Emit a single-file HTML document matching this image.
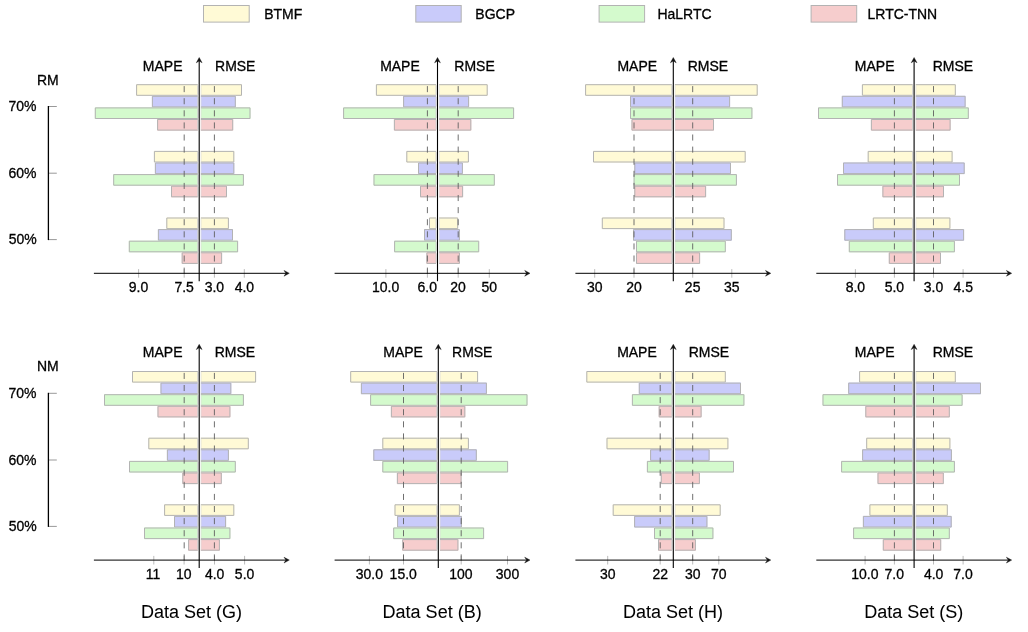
<!DOCTYPE html>
<html><head><meta charset="utf-8"><style>
html,body{margin:0;padding:0;background:#fff;}
body{width:1028px;height:632px;overflow:hidden;}
svg{display:block;will-change:transform;}
text{font-family:"Liberation Sans", Arial, Helvetica, sans-serif;fill:#000;stroke:#000;stroke-width:0.3px;}
.t{stroke-width:0.05px;}
</style></head><body>
<svg width="1028" height="632" viewBox="0 0 1028 632">
<rect x="203.5" y="5.5" width="45.7" height="16.6" fill="#fffad6" stroke="#b3b3b3" stroke-width="1"/>
<text transform="matrix(1 0 0 1.04 264.25 18.7)" font-size="14.0">BTMF</text>
<rect x="415.8" y="5.5" width="45.4" height="16.6" fill="#c9cbfa" stroke="#b3b3b3" stroke-width="1"/>
<text transform="matrix(1 0 0 1.04 475.35 18.7)" font-size="14.0">BGCP</text>
<rect x="599.1" y="5.5" width="45.5" height="16.6" fill="#d4facd" stroke="#b3b3b3" stroke-width="1"/>
<text transform="matrix(1 0 0 1.04 657.45 18.7)" font-size="14.0">HaLRTC</text>
<rect x="811.1" y="5.5" width="45.6" height="16.6" fill="#f6cdcd" stroke="#b3b3b3" stroke-width="1"/>
<text transform="matrix(1 0 0 1.04 867.55 18.7)" font-size="14.0">LRTC-TNN</text>
<text transform="matrix(1 0 0 1.04 36.95 84.8)" font-size="14.0">RM</text>
<text transform="matrix(1 0 0 1.04 8.48 111.1)" font-size="14.0">70%</text>
<text transform="matrix(1 0 0 1.04 8.49 178.3)" font-size="14.0">60%</text>
<text transform="matrix(1 0 0 1.04 8.64 244.3)" font-size="14.0">50%</text>
<line x1="48.5" y1="106.5" x2="56.8" y2="106.5" stroke="#999" stroke-width="1"/>
<line x1="48.5" y1="173.2" x2="56.8" y2="173.2" stroke="#999" stroke-width="1"/>
<line x1="48.5" y1="239.6" x2="56.8" y2="239.6" stroke="#999" stroke-width="1"/>
<line x1="48.4" y1="106" x2="48.4" y2="240.1" stroke="#000" stroke-width="1.3"/>
<text transform="matrix(1 0 0 1.04 36.95 371.3)" font-size="14.0">NM</text>
<text transform="matrix(1 0 0 1.04 8.48 397.9)" font-size="14.0">70%</text>
<text transform="matrix(1 0 0 1.04 8.49 465.1)" font-size="14.0">60%</text>
<text transform="matrix(1 0 0 1.04 8.64 531.1)" font-size="14.0">50%</text>
<line x1="48.5" y1="393.3" x2="56.8" y2="393.3" stroke="#999" stroke-width="1"/>
<line x1="48.5" y1="460" x2="56.8" y2="460" stroke="#999" stroke-width="1"/>
<line x1="48.5" y1="526.4" x2="56.8" y2="526.4" stroke="#999" stroke-width="1"/>
<line x1="48.4" y1="392.8" x2="48.4" y2="526.9" stroke="#000" stroke-width="1.3"/>
<line x1="138.6" y1="269.1" x2="138.6" y2="277.7" stroke="#bbb" stroke-width="1"/>
<line x1="184.2" y1="269.1" x2="184.2" y2="277.7" stroke="#bbb" stroke-width="1"/>
<line x1="214.4" y1="269.1" x2="214.4" y2="277.7" stroke="#bbb" stroke-width="1"/>
<line x1="244.3" y1="269.1" x2="244.3" y2="277.7" stroke="#bbb" stroke-width="1"/>
<rect x="136.1" y="84.2" width="61.7" height="11.6" fill="#fffad6"/>
<path d="M197.8 84.7H136.6V95.3H197.8" fill="none" stroke="#b3b3b3" stroke-width="1"/>
<line x1="197.8" y1="85.2" x2="197.8" y2="94.8" stroke="#cfcfcf" stroke-width="1"/>
<rect x="200.8" y="84.2" width="41.2" height="11.6" fill="#fffad6"/>
<path d="M200.8 84.7H241.5V95.3H200.8" fill="none" stroke="#b3b3b3" stroke-width="1"/>
<line x1="201.1" y1="85.2" x2="201.1" y2="94.8" stroke="#dedede" stroke-width="0.6"/>
<rect x="151.9" y="95.8" width="45.9" height="11.6" fill="#c9cbfa"/>
<path d="M197.8 96.3H152.4V106.9H197.8" fill="none" stroke="#b3b3b3" stroke-width="1"/>
<line x1="197.8" y1="96.8" x2="197.8" y2="106.4" stroke="#cfcfcf" stroke-width="1"/>
<rect x="200.8" y="95.8" width="35" height="11.6" fill="#c9cbfa"/>
<path d="M200.8 96.3H235.3V106.9H200.8" fill="none" stroke="#b3b3b3" stroke-width="1"/>
<line x1="201.1" y1="96.8" x2="201.1" y2="106.4" stroke="#dedede" stroke-width="0.6"/>
<rect x="94.8" y="107.4" width="103" height="11.6" fill="#d4facd"/>
<path d="M197.8 107.9H95.3V118.5H197.8" fill="none" stroke="#b3b3b3" stroke-width="1"/>
<line x1="197.8" y1="108.4" x2="197.8" y2="118" stroke="#cfcfcf" stroke-width="1"/>
<rect x="200.8" y="107.4" width="49.7" height="11.6" fill="#d4facd"/>
<path d="M200.8 107.9H250V118.5H200.8" fill="none" stroke="#b3b3b3" stroke-width="1"/>
<line x1="201.1" y1="108.4" x2="201.1" y2="118" stroke="#dedede" stroke-width="0.6"/>
<rect x="157.1" y="119" width="40.7" height="11.6" fill="#f6cdcd"/>
<path d="M197.8 119.5H157.6V130.1H197.8" fill="none" stroke="#b3b3b3" stroke-width="1"/>
<line x1="197.8" y1="120" x2="197.8" y2="129.6" stroke="#cfcfcf" stroke-width="1"/>
<rect x="200.8" y="119" width="32.4" height="11.6" fill="#f6cdcd"/>
<path d="M200.8 119.5H232.7V130.1H200.8" fill="none" stroke="#b3b3b3" stroke-width="1"/>
<line x1="201.1" y1="120" x2="201.1" y2="129.6" stroke="#dedede" stroke-width="0.6"/>
<rect x="153.9" y="150.9" width="43.9" height="11.6" fill="#fffad6"/>
<path d="M197.8 151.4H154.4V162H197.8" fill="none" stroke="#b3b3b3" stroke-width="1"/>
<line x1="197.8" y1="151.9" x2="197.8" y2="161.5" stroke="#cfcfcf" stroke-width="1"/>
<rect x="200.8" y="150.9" width="33.5" height="11.6" fill="#fffad6"/>
<path d="M200.8 151.4H233.8V162H200.8" fill="none" stroke="#b3b3b3" stroke-width="1"/>
<line x1="201.1" y1="151.9" x2="201.1" y2="161.5" stroke="#dedede" stroke-width="0.6"/>
<rect x="154.9" y="162.5" width="42.9" height="11.6" fill="#c9cbfa"/>
<path d="M197.8 163H155.4V173.6H197.8" fill="none" stroke="#b3b3b3" stroke-width="1"/>
<line x1="197.8" y1="163.5" x2="197.8" y2="173.1" stroke="#cfcfcf" stroke-width="1"/>
<rect x="200.8" y="162.5" width="33.5" height="11.6" fill="#c9cbfa"/>
<path d="M200.8 163H233.8V173.6H200.8" fill="none" stroke="#b3b3b3" stroke-width="1"/>
<line x1="201.1" y1="163.5" x2="201.1" y2="173.1" stroke="#dedede" stroke-width="0.6"/>
<rect x="113.2" y="174.1" width="84.6" height="11.6" fill="#d4facd"/>
<path d="M197.8 174.6H113.7V185.2H197.8" fill="none" stroke="#b3b3b3" stroke-width="1"/>
<line x1="197.8" y1="175.1" x2="197.8" y2="184.7" stroke="#cfcfcf" stroke-width="1"/>
<rect x="200.8" y="174.1" width="43.1" height="11.6" fill="#d4facd"/>
<path d="M200.8 174.6H243.4V185.2H200.8" fill="none" stroke="#b3b3b3" stroke-width="1"/>
<line x1="201.1" y1="175.1" x2="201.1" y2="184.7" stroke="#dedede" stroke-width="0.6"/>
<rect x="171" y="185.7" width="26.8" height="11.6" fill="#f6cdcd"/>
<path d="M197.8 186.2H171.5V196.8H197.8" fill="none" stroke="#b3b3b3" stroke-width="1"/>
<line x1="197.8" y1="186.7" x2="197.8" y2="196.3" stroke="#cfcfcf" stroke-width="1"/>
<rect x="200.8" y="185.7" width="26.2" height="11.6" fill="#f6cdcd"/>
<path d="M200.8 186.2H226.5V196.8H200.8" fill="none" stroke="#b3b3b3" stroke-width="1"/>
<line x1="201.1" y1="186.7" x2="201.1" y2="196.3" stroke="#dedede" stroke-width="0.6"/>
<rect x="166.3" y="217.5" width="31.5" height="11.6" fill="#fffad6"/>
<path d="M197.8 218H166.8V228.6H197.8" fill="none" stroke="#b3b3b3" stroke-width="1"/>
<line x1="197.8" y1="218.5" x2="197.8" y2="228.1" stroke="#cfcfcf" stroke-width="1"/>
<rect x="200.8" y="217.5" width="28.1" height="11.6" fill="#fffad6"/>
<path d="M200.8 218H228.4V228.6H200.8" fill="none" stroke="#b3b3b3" stroke-width="1"/>
<line x1="201.1" y1="218.5" x2="201.1" y2="228.1" stroke="#dedede" stroke-width="0.6"/>
<rect x="157.9" y="229.1" width="39.9" height="11.6" fill="#c9cbfa"/>
<path d="M197.8 229.6H158.4V240.2H197.8" fill="none" stroke="#b3b3b3" stroke-width="1"/>
<line x1="197.8" y1="230.1" x2="197.8" y2="239.7" stroke="#cfcfcf" stroke-width="1"/>
<rect x="200.8" y="229.1" width="32.2" height="11.6" fill="#c9cbfa"/>
<path d="M200.8 229.6H232.5V240.2H200.8" fill="none" stroke="#b3b3b3" stroke-width="1"/>
<line x1="201.1" y1="230.1" x2="201.1" y2="239.7" stroke="#dedede" stroke-width="0.6"/>
<rect x="128.8" y="240.7" width="69" height="11.6" fill="#d4facd"/>
<path d="M197.8 241.2H129.3V251.8H197.8" fill="none" stroke="#b3b3b3" stroke-width="1"/>
<line x1="197.8" y1="241.7" x2="197.8" y2="251.3" stroke="#cfcfcf" stroke-width="1"/>
<rect x="200.8" y="240.7" width="37.3" height="11.6" fill="#d4facd"/>
<path d="M200.8 241.2H237.6V251.8H200.8" fill="none" stroke="#b3b3b3" stroke-width="1"/>
<line x1="201.1" y1="241.7" x2="201.1" y2="251.3" stroke="#dedede" stroke-width="0.6"/>
<rect x="181.7" y="252.3" width="16.1" height="11.6" fill="#f6cdcd"/>
<path d="M197.8 252.8H182.2V263.4H197.8" fill="none" stroke="#b3b3b3" stroke-width="1"/>
<line x1="197.8" y1="253.3" x2="197.8" y2="262.9" stroke="#cfcfcf" stroke-width="1"/>
<rect x="200.8" y="252.3" width="21.3" height="11.6" fill="#f6cdcd"/>
<path d="M200.8 252.8H221.6V263.4H200.8" fill="none" stroke="#b3b3b3" stroke-width="1"/>
<line x1="201.1" y1="253.3" x2="201.1" y2="262.9" stroke="#dedede" stroke-width="0.6"/>
<line x1="184.2" y1="273.65" x2="184.2" y2="84" stroke="#606060" stroke-width="0.9" stroke-dasharray="6.05 6.05"/>
<line x1="214.4" y1="273.65" x2="214.4" y2="84" stroke="#606060" stroke-width="0.9" stroke-dasharray="6.05 6.05"/>
<line x1="93.9" y1="273.3" x2="286.3" y2="273.3" stroke="#000" stroke-width="1.0"/>
<path d="M289.3 273.3 L284 270.4 L285.9 273.3 L284 276.2 Z" fill="#111" stroke="#111" stroke-width="0.4" stroke-linejoin="round"/>
<line x1="199.2" y1="281.2" x2="199.2" y2="60.5" stroke="#000" stroke-width="1.1"/>
<path d="M199.2 57.5 L202.1 62.8 L199.2 60.9 L196.3 62.8 Z" fill="#111" stroke="#111" stroke-width="0.4" stroke-linejoin="round"/>
<text transform="matrix(1 0 0 1.04 142.85 70.6)" font-size="14.0">MAPE</text>
<text transform="matrix(1 0 0 1.04 215.05 70.6)" font-size="14.0">RMSE</text>
<text transform="matrix(1 0 0 1.04 128.81 292.3)" font-size="14.0">9.0</text>
<text transform="matrix(1 0 0 1.04 174.4 292.3)" font-size="14.0">7.5</text>
<text transform="matrix(1 0 0 1.04 204.68 292.3)" font-size="14.0">3.0</text>
<text transform="matrix(1 0 0 1.04 234.68 292.3)" font-size="14.0">4.0</text>
<line x1="385.9" y1="269.1" x2="385.9" y2="277.7" stroke="#bbb" stroke-width="1"/>
<line x1="427.4" y1="269.1" x2="427.4" y2="277.7" stroke="#bbb" stroke-width="1"/>
<line x1="458.2" y1="269.1" x2="458.2" y2="277.7" stroke="#bbb" stroke-width="1"/>
<line x1="489.3" y1="269.1" x2="489.3" y2="277.7" stroke="#bbb" stroke-width="1"/>
<rect x="375.9" y="84.2" width="60.2" height="11.6" fill="#fffad6"/>
<path d="M436.1 84.7H376.4V95.3H436.1" fill="none" stroke="#b3b3b3" stroke-width="1"/>
<line x1="436.1" y1="85.2" x2="436.1" y2="94.8" stroke="#cfcfcf" stroke-width="1"/>
<rect x="439.1" y="84.2" width="48.6" height="11.6" fill="#fffad6"/>
<path d="M439.1 84.7H487.2V95.3H439.1" fill="none" stroke="#b3b3b3" stroke-width="1"/>
<line x1="439.4" y1="85.2" x2="439.4" y2="94.8" stroke="#dedede" stroke-width="0.6"/>
<rect x="403.1" y="95.8" width="33" height="11.6" fill="#c9cbfa"/>
<path d="M436.1 96.3H403.6V106.9H436.1" fill="none" stroke="#b3b3b3" stroke-width="1"/>
<line x1="436.1" y1="96.8" x2="436.1" y2="106.4" stroke="#cfcfcf" stroke-width="1"/>
<rect x="439.1" y="95.8" width="30" height="11.6" fill="#c9cbfa"/>
<path d="M439.1 96.3H468.6V106.9H439.1" fill="none" stroke="#b3b3b3" stroke-width="1"/>
<line x1="439.4" y1="96.8" x2="439.4" y2="106.4" stroke="#dedede" stroke-width="0.6"/>
<rect x="343.1" y="107.4" width="93" height="11.6" fill="#d4facd"/>
<path d="M436.1 107.9H343.6V118.5H436.1" fill="none" stroke="#b3b3b3" stroke-width="1"/>
<line x1="436.1" y1="108.4" x2="436.1" y2="118" stroke="#cfcfcf" stroke-width="1"/>
<rect x="439.1" y="107.4" width="75" height="11.6" fill="#d4facd"/>
<path d="M439.1 107.9H513.6V118.5H439.1" fill="none" stroke="#b3b3b3" stroke-width="1"/>
<line x1="439.4" y1="108.4" x2="439.4" y2="118" stroke="#dedede" stroke-width="0.6"/>
<rect x="393.9" y="119" width="42.2" height="11.6" fill="#f6cdcd"/>
<path d="M436.1 119.5H394.4V130.1H436.1" fill="none" stroke="#b3b3b3" stroke-width="1"/>
<line x1="436.1" y1="120" x2="436.1" y2="129.6" stroke="#cfcfcf" stroke-width="1"/>
<rect x="439.1" y="119" width="32.2" height="11.6" fill="#f6cdcd"/>
<path d="M439.1 119.5H470.8V130.1H439.1" fill="none" stroke="#b3b3b3" stroke-width="1"/>
<line x1="439.4" y1="120" x2="439.4" y2="129.6" stroke="#dedede" stroke-width="0.6"/>
<rect x="406.3" y="150.9" width="29.8" height="11.6" fill="#fffad6"/>
<path d="M436.1 151.4H406.8V162H436.1" fill="none" stroke="#b3b3b3" stroke-width="1"/>
<line x1="436.1" y1="151.9" x2="436.1" y2="161.5" stroke="#cfcfcf" stroke-width="1"/>
<rect x="439.1" y="150.9" width="29.8" height="11.6" fill="#fffad6"/>
<path d="M439.1 151.4H468.4V162H439.1" fill="none" stroke="#b3b3b3" stroke-width="1"/>
<line x1="439.4" y1="151.9" x2="439.4" y2="161.5" stroke="#dedede" stroke-width="0.6"/>
<rect x="418" y="162.5" width="18.1" height="11.6" fill="#c9cbfa"/>
<path d="M436.1 163H418.5V173.6H436.1" fill="none" stroke="#b3b3b3" stroke-width="1"/>
<line x1="436.1" y1="163.5" x2="436.1" y2="173.1" stroke="#cfcfcf" stroke-width="1"/>
<rect x="439.1" y="162.5" width="23.8" height="11.6" fill="#c9cbfa"/>
<path d="M439.1 163H462.4V173.6H439.1" fill="none" stroke="#b3b3b3" stroke-width="1"/>
<line x1="439.4" y1="163.5" x2="439.4" y2="173.1" stroke="#dedede" stroke-width="0.6"/>
<rect x="373.5" y="174.1" width="62.6" height="11.6" fill="#d4facd"/>
<path d="M436.1 174.6H374V185.2H436.1" fill="none" stroke="#b3b3b3" stroke-width="1"/>
<line x1="436.1" y1="175.1" x2="436.1" y2="184.7" stroke="#cfcfcf" stroke-width="1"/>
<rect x="439.1" y="174.1" width="55.7" height="11.6" fill="#d4facd"/>
<path d="M439.1 174.6H494.3V185.2H439.1" fill="none" stroke="#b3b3b3" stroke-width="1"/>
<line x1="439.4" y1="175.1" x2="439.4" y2="184.7" stroke="#dedede" stroke-width="0.6"/>
<rect x="420" y="185.7" width="16.1" height="11.6" fill="#f6cdcd"/>
<path d="M436.1 186.2H420.5V196.8H436.1" fill="none" stroke="#b3b3b3" stroke-width="1"/>
<line x1="436.1" y1="186.7" x2="436.1" y2="196.3" stroke="#cfcfcf" stroke-width="1"/>
<rect x="439.1" y="185.7" width="24" height="11.6" fill="#f6cdcd"/>
<path d="M439.1 186.2H462.6V196.8H439.1" fill="none" stroke="#b3b3b3" stroke-width="1"/>
<line x1="439.4" y1="186.7" x2="439.4" y2="196.3" stroke="#dedede" stroke-width="0.6"/>
<rect x="429" y="217.5" width="7.1" height="11.6" fill="#fffad6"/>
<path d="M436.1 218H429.5V228.6H436.1" fill="none" stroke="#b3b3b3" stroke-width="1"/>
<line x1="436.1" y1="218.5" x2="436.1" y2="228.1" stroke="#cfcfcf" stroke-width="1"/>
<rect x="439.1" y="217.5" width="19.1" height="11.6" fill="#fffad6"/>
<path d="M439.1 218H457.7V228.6H439.1" fill="none" stroke="#b3b3b3" stroke-width="1"/>
<line x1="439.4" y1="218.5" x2="439.4" y2="228.1" stroke="#dedede" stroke-width="0.6"/>
<rect x="424" y="229.1" width="12.1" height="11.6" fill="#c9cbfa"/>
<path d="M436.1 229.6H424.5V240.2H436.1" fill="none" stroke="#b3b3b3" stroke-width="1"/>
<line x1="436.1" y1="230.1" x2="436.1" y2="239.7" stroke="#cfcfcf" stroke-width="1"/>
<rect x="439.1" y="229.1" width="20.8" height="11.6" fill="#c9cbfa"/>
<path d="M439.1 229.6H459.4V240.2H439.1" fill="none" stroke="#b3b3b3" stroke-width="1"/>
<line x1="439.4" y1="230.1" x2="439.4" y2="239.7" stroke="#dedede" stroke-width="0.6"/>
<rect x="394.1" y="240.7" width="42" height="11.6" fill="#d4facd"/>
<path d="M436.1 241.2H394.6V251.8H436.1" fill="none" stroke="#b3b3b3" stroke-width="1"/>
<line x1="436.1" y1="241.7" x2="436.1" y2="251.3" stroke="#cfcfcf" stroke-width="1"/>
<rect x="439.1" y="240.7" width="40.1" height="11.6" fill="#d4facd"/>
<path d="M439.1 241.2H478.7V251.8H439.1" fill="none" stroke="#b3b3b3" stroke-width="1"/>
<line x1="439.4" y1="241.7" x2="439.4" y2="251.3" stroke="#dedede" stroke-width="0.6"/>
<rect x="426.4" y="252.3" width="9.7" height="11.6" fill="#f6cdcd"/>
<path d="M436.1 252.8H426.9V263.4H436.1" fill="none" stroke="#b3b3b3" stroke-width="1"/>
<line x1="436.1" y1="253.3" x2="436.1" y2="262.9" stroke="#cfcfcf" stroke-width="1"/>
<rect x="439.1" y="252.3" width="20.8" height="11.6" fill="#f6cdcd"/>
<path d="M439.1 252.8H459.4V263.4H439.1" fill="none" stroke="#b3b3b3" stroke-width="1"/>
<line x1="439.4" y1="253.3" x2="439.4" y2="262.9" stroke="#dedede" stroke-width="0.6"/>
<line x1="427.4" y1="273.65" x2="427.4" y2="84" stroke="#606060" stroke-width="0.9" stroke-dasharray="6.05 6.05"/>
<line x1="458.2" y1="273.65" x2="458.2" y2="84" stroke="#606060" stroke-width="0.9" stroke-dasharray="6.05 6.05"/>
<line x1="334.6" y1="273.3" x2="527" y2="273.3" stroke="#000" stroke-width="1.0"/>
<path d="M530 273.3 L524.7 270.4 L526.6 273.3 L524.7 276.2 Z" fill="#111" stroke="#111" stroke-width="0.4" stroke-linejoin="round"/>
<line x1="437.5" y1="281.2" x2="437.5" y2="60.5" stroke="#000" stroke-width="1.1"/>
<path d="M437.5 57.5 L440.4 62.8 L437.5 60.9 L434.6 62.8 Z" fill="#111" stroke="#111" stroke-width="0.4" stroke-linejoin="round"/>
<text transform="matrix(1 0 0 1.04 380.15 70.6)" font-size="14.0">MAPE</text>
<text transform="matrix(1 0 0 1.04 454.35 70.6)" font-size="14.0">RMSE</text>
<text transform="matrix(1 0 0 1.04 372.02 292.3)" font-size="14.0">10.0</text>
<text transform="matrix(1 0 0 1.04 417.59 292.3)" font-size="14.0">6.0</text>
<text transform="matrix(1 0 0 1.04 450.34 292.3)" font-size="14.0">20</text>
<text transform="matrix(1 0 0 1.04 481.51 292.3)" font-size="14.0">50</text>
<line x1="594.7" y1="269.1" x2="594.7" y2="277.7" stroke="#bbb" stroke-width="1"/>
<line x1="634" y1="269.1" x2="634" y2="277.7" stroke="#bbb" stroke-width="1"/>
<line x1="692.7" y1="269.1" x2="692.7" y2="277.7" stroke="#bbb" stroke-width="1"/>
<line x1="731.8" y1="269.1" x2="731.8" y2="277.7" stroke="#bbb" stroke-width="1"/>
<rect x="585.1" y="84.2" width="86.8" height="11.6" fill="#fffad6"/>
<path d="M671.9 84.7H585.6V95.3H671.9" fill="none" stroke="#b3b3b3" stroke-width="1"/>
<line x1="671.9" y1="85.2" x2="671.9" y2="94.8" stroke="#cfcfcf" stroke-width="1"/>
<rect x="674.9" y="84.2" width="82.8" height="11.6" fill="#fffad6"/>
<path d="M674.9 84.7H757.2V95.3H674.9" fill="none" stroke="#b3b3b3" stroke-width="1"/>
<line x1="675.2" y1="85.2" x2="675.2" y2="94.8" stroke="#dedede" stroke-width="0.6"/>
<rect x="630" y="95.8" width="41.9" height="11.6" fill="#c9cbfa"/>
<path d="M671.9 96.3H630.5V106.9H671.9" fill="none" stroke="#b3b3b3" stroke-width="1"/>
<line x1="671.9" y1="96.8" x2="671.9" y2="106.4" stroke="#cfcfcf" stroke-width="1"/>
<rect x="674.9" y="95.8" width="55.2" height="11.6" fill="#c9cbfa"/>
<path d="M674.9 96.3H729.6V106.9H674.9" fill="none" stroke="#b3b3b3" stroke-width="1"/>
<line x1="675.2" y1="96.8" x2="675.2" y2="106.4" stroke="#dedede" stroke-width="0.6"/>
<rect x="630" y="107.4" width="41.9" height="11.6" fill="#d4facd"/>
<path d="M671.9 107.9H630.5V118.5H671.9" fill="none" stroke="#b3b3b3" stroke-width="1"/>
<line x1="671.9" y1="108.4" x2="671.9" y2="118" stroke="#cfcfcf" stroke-width="1"/>
<rect x="674.9" y="107.4" width="77.5" height="11.6" fill="#d4facd"/>
<path d="M674.9 107.9H751.9V118.5H674.9" fill="none" stroke="#b3b3b3" stroke-width="1"/>
<line x1="675.2" y1="108.4" x2="675.2" y2="118" stroke="#dedede" stroke-width="0.6"/>
<rect x="631.5" y="119" width="40.4" height="11.6" fill="#f6cdcd"/>
<path d="M671.9 119.5H632V130.1H671.9" fill="none" stroke="#b3b3b3" stroke-width="1"/>
<line x1="671.9" y1="120" x2="671.9" y2="129.6" stroke="#cfcfcf" stroke-width="1"/>
<rect x="674.9" y="119" width="39.1" height="11.6" fill="#f6cdcd"/>
<path d="M674.9 119.5H713.5V130.1H674.9" fill="none" stroke="#b3b3b3" stroke-width="1"/>
<line x1="675.2" y1="120" x2="675.2" y2="129.6" stroke="#dedede" stroke-width="0.6"/>
<rect x="593" y="150.9" width="78.9" height="11.6" fill="#fffad6"/>
<path d="M671.9 151.4H593.5V162H671.9" fill="none" stroke="#b3b3b3" stroke-width="1"/>
<line x1="671.9" y1="151.9" x2="671.9" y2="161.5" stroke="#cfcfcf" stroke-width="1"/>
<rect x="674.9" y="150.9" width="70.8" height="11.6" fill="#fffad6"/>
<path d="M674.9 151.4H745.2V162H674.9" fill="none" stroke="#b3b3b3" stroke-width="1"/>
<line x1="675.2" y1="151.9" x2="675.2" y2="161.5" stroke="#dedede" stroke-width="0.6"/>
<rect x="634.3" y="162.5" width="37.6" height="11.6" fill="#c9cbfa"/>
<path d="M671.9 163H634.8V173.6H671.9" fill="none" stroke="#b3b3b3" stroke-width="1"/>
<line x1="671.9" y1="163.5" x2="671.9" y2="173.1" stroke="#cfcfcf" stroke-width="1"/>
<rect x="674.9" y="162.5" width="56.1" height="11.6" fill="#c9cbfa"/>
<path d="M674.9 163H730.5V173.6H674.9" fill="none" stroke="#b3b3b3" stroke-width="1"/>
<line x1="675.2" y1="163.5" x2="675.2" y2="173.1" stroke="#dedede" stroke-width="0.6"/>
<rect x="633.6" y="174.1" width="38.3" height="11.6" fill="#d4facd"/>
<path d="M671.9 174.6H634.1V185.2H671.9" fill="none" stroke="#b3b3b3" stroke-width="1"/>
<line x1="671.9" y1="175.1" x2="671.9" y2="184.7" stroke="#cfcfcf" stroke-width="1"/>
<rect x="674.9" y="174.1" width="62" height="11.6" fill="#d4facd"/>
<path d="M674.9 174.6H736.4V185.2H674.9" fill="none" stroke="#b3b3b3" stroke-width="1"/>
<line x1="675.2" y1="175.1" x2="675.2" y2="184.7" stroke="#dedede" stroke-width="0.6"/>
<rect x="634.3" y="185.7" width="37.6" height="11.6" fill="#f6cdcd"/>
<path d="M671.9 186.2H634.8V196.8H671.9" fill="none" stroke="#b3b3b3" stroke-width="1"/>
<line x1="671.9" y1="186.7" x2="671.9" y2="196.3" stroke="#cfcfcf" stroke-width="1"/>
<rect x="674.9" y="185.7" width="31.2" height="11.6" fill="#f6cdcd"/>
<path d="M674.9 186.2H705.6V196.8H674.9" fill="none" stroke="#b3b3b3" stroke-width="1"/>
<line x1="675.2" y1="186.7" x2="675.2" y2="196.3" stroke="#dedede" stroke-width="0.6"/>
<rect x="601.8" y="217.5" width="70.1" height="11.6" fill="#fffad6"/>
<path d="M671.9 218H602.3V228.6H671.9" fill="none" stroke="#b3b3b3" stroke-width="1"/>
<line x1="671.9" y1="218.5" x2="671.9" y2="228.1" stroke="#cfcfcf" stroke-width="1"/>
<rect x="674.9" y="217.5" width="49.6" height="11.6" fill="#fffad6"/>
<path d="M674.9 218H724V228.6H674.9" fill="none" stroke="#b3b3b3" stroke-width="1"/>
<line x1="675.2" y1="218.5" x2="675.2" y2="228.1" stroke="#dedede" stroke-width="0.6"/>
<rect x="633" y="229.1" width="38.9" height="11.6" fill="#c9cbfa"/>
<path d="M671.9 229.6H633.5V240.2H671.9" fill="none" stroke="#b3b3b3" stroke-width="1"/>
<line x1="671.9" y1="230.1" x2="671.9" y2="239.7" stroke="#cfcfcf" stroke-width="1"/>
<rect x="674.9" y="229.1" width="56.9" height="11.6" fill="#c9cbfa"/>
<path d="M674.9 229.6H731.3V240.2H674.9" fill="none" stroke="#b3b3b3" stroke-width="1"/>
<line x1="675.2" y1="230.1" x2="675.2" y2="239.7" stroke="#dedede" stroke-width="0.6"/>
<rect x="636" y="240.7" width="35.9" height="11.6" fill="#d4facd"/>
<path d="M671.9 241.2H636.5V251.8H671.9" fill="none" stroke="#b3b3b3" stroke-width="1"/>
<line x1="671.9" y1="241.7" x2="671.9" y2="251.3" stroke="#cfcfcf" stroke-width="1"/>
<rect x="674.9" y="240.7" width="50.9" height="11.6" fill="#d4facd"/>
<path d="M674.9 241.2H725.3V251.8H674.9" fill="none" stroke="#b3b3b3" stroke-width="1"/>
<line x1="675.2" y1="241.7" x2="675.2" y2="251.3" stroke="#dedede" stroke-width="0.6"/>
<rect x="636" y="252.3" width="35.9" height="11.6" fill="#f6cdcd"/>
<path d="M671.9 252.8H636.5V263.4H671.9" fill="none" stroke="#b3b3b3" stroke-width="1"/>
<line x1="671.9" y1="253.3" x2="671.9" y2="262.9" stroke="#cfcfcf" stroke-width="1"/>
<rect x="674.9" y="252.3" width="25.2" height="11.6" fill="#f6cdcd"/>
<path d="M674.9 252.8H699.6V263.4H674.9" fill="none" stroke="#b3b3b3" stroke-width="1"/>
<line x1="675.2" y1="253.3" x2="675.2" y2="262.9" stroke="#dedede" stroke-width="0.6"/>
<line x1="634" y1="273.65" x2="634" y2="84" stroke="#606060" stroke-width="0.9" stroke-dasharray="6.05 6.05"/>
<line x1="692.7" y1="273.65" x2="692.7" y2="84" stroke="#606060" stroke-width="0.9" stroke-dasharray="6.05 6.05"/>
<line x1="575.4" y1="273.3" x2="767.8" y2="273.3" stroke="#000" stroke-width="1.0"/>
<path d="M770.8 273.3 L765.5 270.4 L767.4 273.3 L765.5 276.2 Z" fill="#111" stroke="#111" stroke-width="0.4" stroke-linejoin="round"/>
<line x1="673.3" y1="281.2" x2="673.3" y2="60.5" stroke="#000" stroke-width="1.1"/>
<path d="M673.3 57.5 L676.2 62.8 L673.3 60.9 L670.4 62.8 Z" fill="#111" stroke="#111" stroke-width="0.4" stroke-linejoin="round"/>
<text transform="matrix(1 0 0 1.04 617.45 70.6)" font-size="14.0">MAPE</text>
<text transform="matrix(1 0 0 1.04 687.75 70.6)" font-size="14.0">RMSE</text>
<text transform="matrix(1 0 0 1.04 586.92 292.3)" font-size="14.0">30</text>
<text transform="matrix(1 0 0 1.04 626.14 292.3)" font-size="14.0">20</text>
<text transform="matrix(1 0 0 1.04 684.86 292.3)" font-size="14.0">25</text>
<text transform="matrix(1 0 0 1.04 724.04 292.3)" font-size="14.0">35</text>
<line x1="855.4" y1="269.1" x2="855.4" y2="277.7" stroke="#bbb" stroke-width="1"/>
<line x1="894.4" y1="269.1" x2="894.4" y2="277.7" stroke="#bbb" stroke-width="1"/>
<line x1="933.5" y1="269.1" x2="933.5" y2="277.7" stroke="#bbb" stroke-width="1"/>
<line x1="963.1" y1="269.1" x2="963.1" y2="277.7" stroke="#bbb" stroke-width="1"/>
<rect x="861.9" y="84.2" width="50.8" height="11.6" fill="#fffad6"/>
<path d="M912.7 84.7H862.4V95.3H912.7" fill="none" stroke="#b3b3b3" stroke-width="1"/>
<line x1="912.7" y1="85.2" x2="912.7" y2="94.8" stroke="#cfcfcf" stroke-width="1"/>
<rect x="915.7" y="84.2" width="40.1" height="11.6" fill="#fffad6"/>
<path d="M915.7 84.7H955.3V95.3H915.7" fill="none" stroke="#b3b3b3" stroke-width="1"/>
<line x1="916" y1="85.2" x2="916" y2="94.8" stroke="#dedede" stroke-width="0.6"/>
<rect x="841.8" y="95.8" width="70.9" height="11.6" fill="#c9cbfa"/>
<path d="M912.7 96.3H842.3V106.9H912.7" fill="none" stroke="#b3b3b3" stroke-width="1"/>
<line x1="912.7" y1="96.8" x2="912.7" y2="106.4" stroke="#cfcfcf" stroke-width="1"/>
<rect x="915.7" y="95.8" width="49.9" height="11.6" fill="#c9cbfa"/>
<path d="M915.7 96.3H965.1V106.9H915.7" fill="none" stroke="#b3b3b3" stroke-width="1"/>
<line x1="916" y1="96.8" x2="916" y2="106.4" stroke="#dedede" stroke-width="0.6"/>
<rect x="818" y="107.4" width="94.7" height="11.6" fill="#d4facd"/>
<path d="M912.7 107.9H818.5V118.5H912.7" fill="none" stroke="#b3b3b3" stroke-width="1"/>
<line x1="912.7" y1="108.4" x2="912.7" y2="118" stroke="#cfcfcf" stroke-width="1"/>
<rect x="915.7" y="107.4" width="53.1" height="11.6" fill="#d4facd"/>
<path d="M915.7 107.9H968.3V118.5H915.7" fill="none" stroke="#b3b3b3" stroke-width="1"/>
<line x1="916" y1="108.4" x2="916" y2="118" stroke="#dedede" stroke-width="0.6"/>
<rect x="870.9" y="119" width="41.8" height="11.6" fill="#f6cdcd"/>
<path d="M912.7 119.5H871.4V130.1H912.7" fill="none" stroke="#b3b3b3" stroke-width="1"/>
<line x1="912.7" y1="120" x2="912.7" y2="129.6" stroke="#cfcfcf" stroke-width="1"/>
<rect x="915.7" y="119" width="34.9" height="11.6" fill="#f6cdcd"/>
<path d="M915.7 119.5H950.1V130.1H915.7" fill="none" stroke="#b3b3b3" stroke-width="1"/>
<line x1="916" y1="120" x2="916" y2="129.6" stroke="#dedede" stroke-width="0.6"/>
<rect x="867.7" y="150.9" width="45" height="11.6" fill="#fffad6"/>
<path d="M912.7 151.4H868.2V162H912.7" fill="none" stroke="#b3b3b3" stroke-width="1"/>
<line x1="912.7" y1="151.9" x2="912.7" y2="161.5" stroke="#cfcfcf" stroke-width="1"/>
<rect x="915.7" y="150.9" width="36.9" height="11.6" fill="#fffad6"/>
<path d="M915.7 151.4H952.1V162H915.7" fill="none" stroke="#b3b3b3" stroke-width="1"/>
<line x1="916" y1="151.9" x2="916" y2="161.5" stroke="#dedede" stroke-width="0.6"/>
<rect x="843" y="162.5" width="69.7" height="11.6" fill="#c9cbfa"/>
<path d="M912.7 163H843.5V173.6H912.7" fill="none" stroke="#b3b3b3" stroke-width="1"/>
<line x1="912.7" y1="163.5" x2="912.7" y2="173.1" stroke="#cfcfcf" stroke-width="1"/>
<rect x="915.7" y="162.5" width="49" height="11.6" fill="#c9cbfa"/>
<path d="M915.7 163H964.2V173.6H915.7" fill="none" stroke="#b3b3b3" stroke-width="1"/>
<line x1="916" y1="163.5" x2="916" y2="173.1" stroke="#dedede" stroke-width="0.6"/>
<rect x="837" y="174.1" width="75.7" height="11.6" fill="#d4facd"/>
<path d="M912.7 174.6H837.5V185.2H912.7" fill="none" stroke="#b3b3b3" stroke-width="1"/>
<line x1="912.7" y1="175.1" x2="912.7" y2="184.7" stroke="#cfcfcf" stroke-width="1"/>
<rect x="915.7" y="174.1" width="44.3" height="11.6" fill="#d4facd"/>
<path d="M915.7 174.6H959.5V185.2H915.7" fill="none" stroke="#b3b3b3" stroke-width="1"/>
<line x1="916" y1="175.1" x2="916" y2="184.7" stroke="#dedede" stroke-width="0.6"/>
<rect x="882.4" y="185.7" width="30.3" height="11.6" fill="#f6cdcd"/>
<path d="M912.7 186.2H882.9V196.8H912.7" fill="none" stroke="#b3b3b3" stroke-width="1"/>
<line x1="912.7" y1="186.7" x2="912.7" y2="196.3" stroke="#cfcfcf" stroke-width="1"/>
<rect x="915.7" y="185.7" width="28.3" height="11.6" fill="#f6cdcd"/>
<path d="M915.7 186.2H943.5V196.8H915.7" fill="none" stroke="#b3b3b3" stroke-width="1"/>
<line x1="916" y1="186.7" x2="916" y2="196.3" stroke="#dedede" stroke-width="0.6"/>
<rect x="872.8" y="217.5" width="39.9" height="11.6" fill="#fffad6"/>
<path d="M912.7 218H873.3V228.6H912.7" fill="none" stroke="#b3b3b3" stroke-width="1"/>
<line x1="912.7" y1="218.5" x2="912.7" y2="228.1" stroke="#cfcfcf" stroke-width="1"/>
<rect x="915.7" y="217.5" width="34.7" height="11.6" fill="#fffad6"/>
<path d="M915.7 218H949.9V228.6H915.7" fill="none" stroke="#b3b3b3" stroke-width="1"/>
<line x1="916" y1="218.5" x2="916" y2="228.1" stroke="#dedede" stroke-width="0.6"/>
<rect x="844.3" y="229.1" width="68.4" height="11.6" fill="#c9cbfa"/>
<path d="M912.7 229.6H844.8V240.2H912.7" fill="none" stroke="#b3b3b3" stroke-width="1"/>
<line x1="912.7" y1="230.1" x2="912.7" y2="239.7" stroke="#cfcfcf" stroke-width="1"/>
<rect x="915.7" y="229.1" width="48.4" height="11.6" fill="#c9cbfa"/>
<path d="M915.7 229.6H963.6V240.2H915.7" fill="none" stroke="#b3b3b3" stroke-width="1"/>
<line x1="916" y1="230.1" x2="916" y2="239.7" stroke="#dedede" stroke-width="0.6"/>
<rect x="848.8" y="240.7" width="63.9" height="11.6" fill="#d4facd"/>
<path d="M912.7 241.2H849.3V251.8H912.7" fill="none" stroke="#b3b3b3" stroke-width="1"/>
<line x1="912.7" y1="241.7" x2="912.7" y2="251.3" stroke="#cfcfcf" stroke-width="1"/>
<rect x="915.7" y="240.7" width="39.2" height="11.6" fill="#d4facd"/>
<path d="M915.7 241.2H954.4V251.8H915.7" fill="none" stroke="#b3b3b3" stroke-width="1"/>
<line x1="916" y1="241.7" x2="916" y2="251.3" stroke="#dedede" stroke-width="0.6"/>
<rect x="888.8" y="252.3" width="23.9" height="11.6" fill="#f6cdcd"/>
<path d="M912.7 252.8H889.3V263.4H912.7" fill="none" stroke="#b3b3b3" stroke-width="1"/>
<line x1="912.7" y1="253.3" x2="912.7" y2="262.9" stroke="#cfcfcf" stroke-width="1"/>
<rect x="915.7" y="252.3" width="25.3" height="11.6" fill="#f6cdcd"/>
<path d="M915.7 252.8H940.5V263.4H915.7" fill="none" stroke="#b3b3b3" stroke-width="1"/>
<line x1="916" y1="253.3" x2="916" y2="262.9" stroke="#dedede" stroke-width="0.6"/>
<line x1="894.4" y1="273.65" x2="894.4" y2="84" stroke="#606060" stroke-width="0.9" stroke-dasharray="6.05 6.05"/>
<line x1="933.5" y1="273.65" x2="933.5" y2="84" stroke="#606060" stroke-width="0.9" stroke-dasharray="6.05 6.05"/>
<line x1="816.3" y1="273.3" x2="1008.7" y2="273.3" stroke="#000" stroke-width="1.0"/>
<path d="M1011.7 273.3 L1006.4 270.4 L1008.3 273.3 L1006.4 276.2 Z" fill="#111" stroke="#111" stroke-width="0.4" stroke-linejoin="round"/>
<line x1="914.1" y1="281.2" x2="914.1" y2="60.5" stroke="#000" stroke-width="1.1"/>
<path d="M914.1 57.5 L917 62.8 L914.1 60.9 L911.2 62.8 Z" fill="#111" stroke="#111" stroke-width="0.4" stroke-linejoin="round"/>
<text transform="matrix(1 0 0 1.04 854.85 70.6)" font-size="14.0">MAPE</text>
<text transform="matrix(1 0 0 1.04 932.75 70.6)" font-size="14.0">RMSE</text>
<text transform="matrix(1 0 0 1.04 845.64 292.3)" font-size="14.0">8.0</text>
<text transform="matrix(1 0 0 1.04 884.66 292.3)" font-size="14.0">5.0</text>
<text transform="matrix(1 0 0 1.04 923.78 292.3)" font-size="14.0">3.0</text>
<text transform="matrix(1 0 0 1.04 953.5 292.3)" font-size="14.0">4.5</text>
<line x1="153.8" y1="555.9" x2="153.8" y2="564.5" stroke="#bbb" stroke-width="1"/>
<line x1="184.1" y1="555.9" x2="184.1" y2="564.5" stroke="#bbb" stroke-width="1"/>
<line x1="214.5" y1="555.9" x2="214.5" y2="564.5" stroke="#bbb" stroke-width="1"/>
<line x1="244.6" y1="555.9" x2="244.6" y2="564.5" stroke="#bbb" stroke-width="1"/>
<rect x="132" y="371" width="65.8" height="11.6" fill="#fffad6"/>
<path d="M197.8 371.5H132.5V382.1H197.8" fill="none" stroke="#b3b3b3" stroke-width="1"/>
<line x1="197.8" y1="372" x2="197.8" y2="381.6" stroke="#cfcfcf" stroke-width="1"/>
<rect x="200.8" y="371" width="55.3" height="11.6" fill="#fffad6"/>
<path d="M200.8 371.5H255.6V382.1H200.8" fill="none" stroke="#b3b3b3" stroke-width="1"/>
<line x1="201.1" y1="372" x2="201.1" y2="381.6" stroke="#dedede" stroke-width="0.6"/>
<rect x="160.5" y="382.6" width="37.3" height="11.6" fill="#c9cbfa"/>
<path d="M197.8 383.1H161V393.7H197.8" fill="none" stroke="#b3b3b3" stroke-width="1"/>
<line x1="197.8" y1="383.6" x2="197.8" y2="393.2" stroke="#cfcfcf" stroke-width="1"/>
<rect x="200.8" y="382.6" width="30.5" height="11.6" fill="#c9cbfa"/>
<path d="M200.8 383.1H230.8V393.7H200.8" fill="none" stroke="#b3b3b3" stroke-width="1"/>
<line x1="201.1" y1="383.6" x2="201.1" y2="393.2" stroke="#dedede" stroke-width="0.6"/>
<rect x="104" y="394.2" width="93.8" height="11.6" fill="#d4facd"/>
<path d="M197.8 394.7H104.5V405.3H197.8" fill="none" stroke="#b3b3b3" stroke-width="1"/>
<line x1="197.8" y1="395.2" x2="197.8" y2="404.8" stroke="#cfcfcf" stroke-width="1"/>
<rect x="200.8" y="394.2" width="43.1" height="11.6" fill="#d4facd"/>
<path d="M200.8 394.7H243.4V405.3H200.8" fill="none" stroke="#b3b3b3" stroke-width="1"/>
<line x1="201.1" y1="395.2" x2="201.1" y2="404.8" stroke="#dedede" stroke-width="0.6"/>
<rect x="157.5" y="405.8" width="40.3" height="11.6" fill="#f6cdcd"/>
<path d="M197.8 406.3H158V416.9H197.8" fill="none" stroke="#b3b3b3" stroke-width="1"/>
<line x1="197.8" y1="406.8" x2="197.8" y2="416.4" stroke="#cfcfcf" stroke-width="1"/>
<rect x="200.8" y="405.8" width="29.6" height="11.6" fill="#f6cdcd"/>
<path d="M200.8 406.3H229.9V416.9H200.8" fill="none" stroke="#b3b3b3" stroke-width="1"/>
<line x1="201.1" y1="406.8" x2="201.1" y2="416.4" stroke="#dedede" stroke-width="0.6"/>
<rect x="148.3" y="437.7" width="49.5" height="11.6" fill="#fffad6"/>
<path d="M197.8 438.2H148.8V448.8H197.8" fill="none" stroke="#b3b3b3" stroke-width="1"/>
<line x1="197.8" y1="438.7" x2="197.8" y2="448.3" stroke="#cfcfcf" stroke-width="1"/>
<rect x="200.8" y="437.7" width="48" height="11.6" fill="#fffad6"/>
<path d="M200.8 438.2H248.3V448.8H200.8" fill="none" stroke="#b3b3b3" stroke-width="1"/>
<line x1="201.1" y1="438.7" x2="201.1" y2="448.3" stroke="#dedede" stroke-width="0.6"/>
<rect x="166.9" y="449.3" width="30.9" height="11.6" fill="#c9cbfa"/>
<path d="M197.8 449.8H167.4V460.4H197.8" fill="none" stroke="#b3b3b3" stroke-width="1"/>
<line x1="197.8" y1="450.3" x2="197.8" y2="459.9" stroke="#cfcfcf" stroke-width="1"/>
<rect x="200.8" y="449.3" width="28.1" height="11.6" fill="#c9cbfa"/>
<path d="M200.8 449.8H228.4V460.4H200.8" fill="none" stroke="#b3b3b3" stroke-width="1"/>
<line x1="201.1" y1="450.3" x2="201.1" y2="459.9" stroke="#dedede" stroke-width="0.6"/>
<rect x="129" y="460.9" width="68.8" height="11.6" fill="#d4facd"/>
<path d="M197.8 461.4H129.5V472H197.8" fill="none" stroke="#b3b3b3" stroke-width="1"/>
<line x1="197.8" y1="461.9" x2="197.8" y2="471.5" stroke="#cfcfcf" stroke-width="1"/>
<rect x="200.8" y="460.9" width="35" height="11.6" fill="#d4facd"/>
<path d="M200.8 461.4H235.3V472H200.8" fill="none" stroke="#b3b3b3" stroke-width="1"/>
<line x1="201.1" y1="461.9" x2="201.1" y2="471.5" stroke="#dedede" stroke-width="0.6"/>
<rect x="182.3" y="472.5" width="15.5" height="11.6" fill="#f6cdcd"/>
<path d="M197.8 473H182.8V483.6H197.8" fill="none" stroke="#b3b3b3" stroke-width="1"/>
<line x1="197.8" y1="473.5" x2="197.8" y2="483.1" stroke="#cfcfcf" stroke-width="1"/>
<rect x="200.8" y="472.5" width="21" height="11.6" fill="#f6cdcd"/>
<path d="M200.8 473H221.3V483.6H200.8" fill="none" stroke="#b3b3b3" stroke-width="1"/>
<line x1="201.1" y1="473.5" x2="201.1" y2="483.1" stroke="#dedede" stroke-width="0.6"/>
<rect x="164.1" y="504.3" width="33.7" height="11.6" fill="#fffad6"/>
<path d="M197.8 504.8H164.6V515.4H197.8" fill="none" stroke="#b3b3b3" stroke-width="1"/>
<line x1="197.8" y1="505.3" x2="197.8" y2="514.9" stroke="#cfcfcf" stroke-width="1"/>
<rect x="200.8" y="504.3" width="33.5" height="11.6" fill="#fffad6"/>
<path d="M200.8 504.8H233.8V515.4H200.8" fill="none" stroke="#b3b3b3" stroke-width="1"/>
<line x1="201.1" y1="505.3" x2="201.1" y2="514.9" stroke="#dedede" stroke-width="0.6"/>
<rect x="174" y="515.9" width="23.8" height="11.6" fill="#c9cbfa"/>
<path d="M197.8 516.4H174.5V527H197.8" fill="none" stroke="#b3b3b3" stroke-width="1"/>
<line x1="197.8" y1="516.9" x2="197.8" y2="526.5" stroke="#cfcfcf" stroke-width="1"/>
<rect x="200.8" y="515.9" width="25.3" height="11.6" fill="#c9cbfa"/>
<path d="M200.8 516.4H225.6V527H200.8" fill="none" stroke="#b3b3b3" stroke-width="1"/>
<line x1="201.1" y1="516.9" x2="201.1" y2="526.5" stroke="#dedede" stroke-width="0.6"/>
<rect x="144" y="527.5" width="53.8" height="11.6" fill="#d4facd"/>
<path d="M197.8 528H144.5V538.6H197.8" fill="none" stroke="#b3b3b3" stroke-width="1"/>
<line x1="197.8" y1="528.5" x2="197.8" y2="538.1" stroke="#cfcfcf" stroke-width="1"/>
<rect x="200.8" y="527.5" width="29.6" height="11.6" fill="#d4facd"/>
<path d="M200.8 528H229.9V538.6H200.8" fill="none" stroke="#b3b3b3" stroke-width="1"/>
<line x1="201.1" y1="528.5" x2="201.1" y2="538.1" stroke="#dedede" stroke-width="0.6"/>
<rect x="188.1" y="539.1" width="9.7" height="11.6" fill="#f6cdcd"/>
<path d="M197.8 539.6H188.6V550.2H197.8" fill="none" stroke="#b3b3b3" stroke-width="1"/>
<line x1="197.8" y1="540.1" x2="197.8" y2="549.7" stroke="#cfcfcf" stroke-width="1"/>
<rect x="200.8" y="539.1" width="19.1" height="11.6" fill="#f6cdcd"/>
<path d="M200.8 539.6H219.4V550.2H200.8" fill="none" stroke="#b3b3b3" stroke-width="1"/>
<line x1="201.1" y1="540.1" x2="201.1" y2="549.7" stroke="#dedede" stroke-width="0.6"/>
<line x1="184.2" y1="560.45" x2="184.2" y2="370.8" stroke="#606060" stroke-width="0.9" stroke-dasharray="6.05 6.05"/>
<line x1="214.4" y1="560.45" x2="214.4" y2="370.8" stroke="#606060" stroke-width="0.9" stroke-dasharray="6.05 6.05"/>
<line x1="93.9" y1="560.1" x2="286.3" y2="560.1" stroke="#000" stroke-width="1.0"/>
<path d="M289.3 560.1 L284 557.2 L285.9 560.1 L284 563 Z" fill="#111" stroke="#111" stroke-width="0.4" stroke-linejoin="round"/>
<line x1="199.2" y1="568" x2="199.2" y2="347.3" stroke="#000" stroke-width="1.1"/>
<path d="M199.2 344.3 L202.1 349.6 L199.2 347.7 L196.3 349.6 Z" fill="#111" stroke="#111" stroke-width="0.4" stroke-linejoin="round"/>
<text transform="matrix(1 0 0 1.04 142.85 357.1)" font-size="14.0">MAPE</text>
<text transform="matrix(1 0 0 1.04 214.75 357.1)" font-size="14.0">RMSE</text>
<text transform="matrix(1 0 0 1.04 145.82 578.8)" font-size="14.0">11</text>
<text transform="matrix(1 0 0 1.04 176.05 578.8)" font-size="14.0">10</text>
<text transform="matrix(1 0 0 1.04 204.88 578.8)" font-size="14.0">4.0</text>
<text transform="matrix(1 0 0 1.04 234.86 578.8)" font-size="14.0">5.0</text>
<text class="t" transform="matrix(1 0 0 1 140.9 617.6)" font-size="18.0">Data Set (G)</text>
<line x1="369.4" y1="555.9" x2="369.4" y2="564.5" stroke="#bbb" stroke-width="1"/>
<line x1="403.5" y1="555.9" x2="403.5" y2="564.5" stroke="#bbb" stroke-width="1"/>
<line x1="461.2" y1="555.9" x2="461.2" y2="564.5" stroke="#bbb" stroke-width="1"/>
<line x1="507.5" y1="555.9" x2="507.5" y2="564.5" stroke="#bbb" stroke-width="1"/>
<rect x="350.2" y="371" width="86.7" height="11.6" fill="#fffad6"/>
<path d="M436.9 371.5H350.7V382.1H436.9" fill="none" stroke="#b3b3b3" stroke-width="1"/>
<line x1="436.9" y1="372" x2="436.9" y2="381.6" stroke="#cfcfcf" stroke-width="1"/>
<rect x="439.9" y="371" width="38.2" height="11.6" fill="#fffad6"/>
<path d="M439.9 371.5H477.6V382.1H439.9" fill="none" stroke="#b3b3b3" stroke-width="1"/>
<line x1="440.2" y1="372" x2="440.2" y2="381.6" stroke="#dedede" stroke-width="0.6"/>
<rect x="360.9" y="382.6" width="76" height="11.6" fill="#c9cbfa"/>
<path d="M436.9 383.1H361.4V393.7H436.9" fill="none" stroke="#b3b3b3" stroke-width="1"/>
<line x1="436.9" y1="383.6" x2="436.9" y2="393.2" stroke="#cfcfcf" stroke-width="1"/>
<rect x="439.9" y="382.6" width="47" height="11.6" fill="#c9cbfa"/>
<path d="M439.9 383.1H486.4V393.7H439.9" fill="none" stroke="#b3b3b3" stroke-width="1"/>
<line x1="440.2" y1="383.6" x2="440.2" y2="393.2" stroke="#dedede" stroke-width="0.6"/>
<rect x="370.1" y="394.2" width="66.8" height="11.6" fill="#d4facd"/>
<path d="M436.9 394.7H370.6V405.3H436.9" fill="none" stroke="#b3b3b3" stroke-width="1"/>
<line x1="436.9" y1="395.2" x2="436.9" y2="404.8" stroke="#cfcfcf" stroke-width="1"/>
<rect x="439.9" y="394.2" width="87.6" height="11.6" fill="#d4facd"/>
<path d="M439.9 394.7H527V405.3H439.9" fill="none" stroke="#b3b3b3" stroke-width="1"/>
<line x1="440.2" y1="395.2" x2="440.2" y2="404.8" stroke="#dedede" stroke-width="0.6"/>
<rect x="390.9" y="405.8" width="46" height="11.6" fill="#f6cdcd"/>
<path d="M436.9 406.3H391.4V416.9H436.9" fill="none" stroke="#b3b3b3" stroke-width="1"/>
<line x1="436.9" y1="406.8" x2="436.9" y2="416.4" stroke="#cfcfcf" stroke-width="1"/>
<rect x="439.9" y="405.8" width="25.4" height="11.6" fill="#f6cdcd"/>
<path d="M439.9 406.3H464.8V416.9H439.9" fill="none" stroke="#b3b3b3" stroke-width="1"/>
<line x1="440.2" y1="406.8" x2="440.2" y2="416.4" stroke="#dedede" stroke-width="0.6"/>
<rect x="382.3" y="437.7" width="54.6" height="11.6" fill="#fffad6"/>
<path d="M436.9 438.2H382.8V448.8H436.9" fill="none" stroke="#b3b3b3" stroke-width="1"/>
<line x1="436.9" y1="438.7" x2="436.9" y2="448.3" stroke="#cfcfcf" stroke-width="1"/>
<rect x="439.9" y="437.7" width="29" height="11.6" fill="#fffad6"/>
<path d="M439.9 438.2H468.4V448.8H439.9" fill="none" stroke="#b3b3b3" stroke-width="1"/>
<line x1="440.2" y1="438.7" x2="440.2" y2="448.3" stroke="#dedede" stroke-width="0.6"/>
<rect x="373.3" y="449.3" width="63.6" height="11.6" fill="#c9cbfa"/>
<path d="M436.9 449.8H373.8V460.4H436.9" fill="none" stroke="#b3b3b3" stroke-width="1"/>
<line x1="436.9" y1="450.3" x2="436.9" y2="459.9" stroke="#cfcfcf" stroke-width="1"/>
<rect x="439.9" y="449.3" width="36.9" height="11.6" fill="#c9cbfa"/>
<path d="M439.9 449.8H476.3V460.4H439.9" fill="none" stroke="#b3b3b3" stroke-width="1"/>
<line x1="440.2" y1="450.3" x2="440.2" y2="459.9" stroke="#dedede" stroke-width="0.6"/>
<rect x="382.3" y="460.9" width="54.6" height="11.6" fill="#d4facd"/>
<path d="M436.9 461.4H382.8V472H436.9" fill="none" stroke="#b3b3b3" stroke-width="1"/>
<line x1="436.9" y1="461.9" x2="436.9" y2="471.5" stroke="#cfcfcf" stroke-width="1"/>
<rect x="439.9" y="460.9" width="68.2" height="11.6" fill="#d4facd"/>
<path d="M439.9 461.4H507.6V472H439.9" fill="none" stroke="#b3b3b3" stroke-width="1"/>
<line x1="440.2" y1="461.9" x2="440.2" y2="471.5" stroke="#dedede" stroke-width="0.6"/>
<rect x="396.9" y="472.5" width="40" height="11.6" fill="#f6cdcd"/>
<path d="M436.9 473H397.4V483.6H436.9" fill="none" stroke="#b3b3b3" stroke-width="1"/>
<line x1="436.9" y1="473.5" x2="436.9" y2="483.1" stroke="#cfcfcf" stroke-width="1"/>
<rect x="439.9" y="472.5" width="21.7" height="11.6" fill="#f6cdcd"/>
<path d="M439.9 473H461.1V483.6H439.9" fill="none" stroke="#b3b3b3" stroke-width="1"/>
<line x1="440.2" y1="473.5" x2="440.2" y2="483.1" stroke="#dedede" stroke-width="0.6"/>
<rect x="394.5" y="504.3" width="42.4" height="11.6" fill="#fffad6"/>
<path d="M436.9 504.8H395V515.4H436.9" fill="none" stroke="#b3b3b3" stroke-width="1"/>
<line x1="436.9" y1="505.3" x2="436.9" y2="514.9" stroke="#cfcfcf" stroke-width="1"/>
<rect x="439.9" y="504.3" width="20" height="11.6" fill="#fffad6"/>
<path d="M439.9 504.8H459.4V515.4H439.9" fill="none" stroke="#b3b3b3" stroke-width="1"/>
<line x1="440.2" y1="505.3" x2="440.2" y2="514.9" stroke="#dedede" stroke-width="0.6"/>
<rect x="397.1" y="515.9" width="39.8" height="11.6" fill="#c9cbfa"/>
<path d="M436.9 516.4H397.6V527H436.9" fill="none" stroke="#b3b3b3" stroke-width="1"/>
<line x1="436.9" y1="516.9" x2="436.9" y2="526.5" stroke="#cfcfcf" stroke-width="1"/>
<rect x="439.9" y="515.9" width="22" height="11.6" fill="#c9cbfa"/>
<path d="M439.9 516.4H461.4V527H439.9" fill="none" stroke="#b3b3b3" stroke-width="1"/>
<line x1="440.2" y1="516.9" x2="440.2" y2="526.5" stroke="#dedede" stroke-width="0.6"/>
<rect x="393.2" y="527.5" width="43.7" height="11.6" fill="#d4facd"/>
<path d="M436.9 528H393.7V538.6H436.9" fill="none" stroke="#b3b3b3" stroke-width="1"/>
<line x1="436.9" y1="528.5" x2="436.9" y2="538.1" stroke="#cfcfcf" stroke-width="1"/>
<rect x="439.9" y="527.5" width="44.2" height="11.6" fill="#d4facd"/>
<path d="M439.9 528H483.6V538.6H439.9" fill="none" stroke="#b3b3b3" stroke-width="1"/>
<line x1="440.2" y1="528.5" x2="440.2" y2="538.1" stroke="#dedede" stroke-width="0.6"/>
<rect x="402.2" y="539.1" width="34.7" height="11.6" fill="#f6cdcd"/>
<path d="M436.9 539.6H402.7V550.2H436.9" fill="none" stroke="#b3b3b3" stroke-width="1"/>
<line x1="436.9" y1="540.1" x2="436.9" y2="549.7" stroke="#cfcfcf" stroke-width="1"/>
<rect x="439.9" y="539.1" width="18.5" height="11.6" fill="#f6cdcd"/>
<path d="M439.9 539.6H457.9V550.2H439.9" fill="none" stroke="#b3b3b3" stroke-width="1"/>
<line x1="440.2" y1="540.1" x2="440.2" y2="549.7" stroke="#dedede" stroke-width="0.6"/>
<line x1="403.5" y1="560.45" x2="403.5" y2="370.8" stroke="#606060" stroke-width="0.9" stroke-dasharray="6.05 6.05"/>
<line x1="461.2" y1="560.45" x2="461.2" y2="370.8" stroke="#606060" stroke-width="0.9" stroke-dasharray="6.05 6.05"/>
<line x1="334.6" y1="560.1" x2="527" y2="560.1" stroke="#000" stroke-width="1.0"/>
<path d="M530 560.1 L524.7 557.2 L526.6 560.1 L524.7 563 Z" fill="#111" stroke="#111" stroke-width="0.4" stroke-linejoin="round"/>
<line x1="438.3" y1="568" x2="438.3" y2="347.3" stroke="#000" stroke-width="1.1"/>
<path d="M438.3 344.3 L441.2 349.6 L438.3 347.7 L435.4 349.6 Z" fill="#111" stroke="#111" stroke-width="0.4" stroke-linejoin="round"/>
<text transform="matrix(1 0 0 1.04 383.25 357.1)" font-size="14.0">MAPE</text>
<text transform="matrix(1 0 0 1.04 452.05 357.1)" font-size="14.0">RMSE</text>
<text transform="matrix(1 0 0 1.04 355.78 578.8)" font-size="14.0">30.0</text>
<text transform="matrix(1 0 0 1.04 389.62 578.8)" font-size="14.0">15.0</text>
<text transform="matrix(1 0 0 1.04 449.26 578.8)" font-size="14.0">100</text>
<text transform="matrix(1 0 0 1.04 495.83 578.8)" font-size="14.0">300</text>
<text class="t" transform="matrix(1 0 0 1 382.6 617.6)" font-size="18.0">Data Set (B)</text>
<line x1="607.7" y1="555.9" x2="607.7" y2="564.5" stroke="#bbb" stroke-width="1"/>
<line x1="660.2" y1="555.9" x2="660.2" y2="564.5" stroke="#bbb" stroke-width="1"/>
<line x1="692.7" y1="555.9" x2="692.7" y2="564.5" stroke="#bbb" stroke-width="1"/>
<line x1="718.8" y1="555.9" x2="718.8" y2="564.5" stroke="#bbb" stroke-width="1"/>
<rect x="586.3" y="371" width="85.6" height="11.6" fill="#fffad6"/>
<path d="M671.9 371.5H586.8V382.1H671.9" fill="none" stroke="#b3b3b3" stroke-width="1"/>
<line x1="671.9" y1="372" x2="671.9" y2="381.6" stroke="#cfcfcf" stroke-width="1"/>
<rect x="674.9" y="371" width="50.9" height="11.6" fill="#fffad6"/>
<path d="M674.9 371.5H725.3V382.1H674.9" fill="none" stroke="#b3b3b3" stroke-width="1"/>
<line x1="675.2" y1="372" x2="675.2" y2="381.6" stroke="#dedede" stroke-width="0.6"/>
<rect x="638.8" y="382.6" width="33.1" height="11.6" fill="#c9cbfa"/>
<path d="M671.9 383.1H639.3V393.7H671.9" fill="none" stroke="#b3b3b3" stroke-width="1"/>
<line x1="671.9" y1="383.6" x2="671.9" y2="393.2" stroke="#cfcfcf" stroke-width="1"/>
<rect x="674.9" y="382.6" width="66.1" height="11.6" fill="#c9cbfa"/>
<path d="M674.9 383.1H740.5V393.7H674.9" fill="none" stroke="#b3b3b3" stroke-width="1"/>
<line x1="675.2" y1="383.6" x2="675.2" y2="393.2" stroke="#dedede" stroke-width="0.6"/>
<rect x="631.9" y="394.2" width="40" height="11.6" fill="#d4facd"/>
<path d="M671.9 394.7H632.4V405.3H671.9" fill="none" stroke="#b3b3b3" stroke-width="1"/>
<line x1="671.9" y1="395.2" x2="671.9" y2="404.8" stroke="#cfcfcf" stroke-width="1"/>
<rect x="674.9" y="394.2" width="69.5" height="11.6" fill="#d4facd"/>
<path d="M674.9 394.7H743.9V405.3H674.9" fill="none" stroke="#b3b3b3" stroke-width="1"/>
<line x1="675.2" y1="395.2" x2="675.2" y2="404.8" stroke="#dedede" stroke-width="0.6"/>
<rect x="658.7" y="405.8" width="13.2" height="11.6" fill="#f6cdcd"/>
<path d="M671.9 406.3H659.2V416.9H671.9" fill="none" stroke="#b3b3b3" stroke-width="1"/>
<line x1="671.9" y1="406.8" x2="671.9" y2="416.4" stroke="#cfcfcf" stroke-width="1"/>
<rect x="674.9" y="405.8" width="26.7" height="11.6" fill="#f6cdcd"/>
<path d="M674.9 406.3H701.1V416.9H674.9" fill="none" stroke="#b3b3b3" stroke-width="1"/>
<line x1="675.2" y1="406.8" x2="675.2" y2="416.4" stroke="#dedede" stroke-width="0.6"/>
<rect x="606.5" y="437.7" width="65.4" height="11.6" fill="#fffad6"/>
<path d="M671.9 438.2H607V448.8H671.9" fill="none" stroke="#b3b3b3" stroke-width="1"/>
<line x1="671.9" y1="438.7" x2="671.9" y2="448.3" stroke="#cfcfcf" stroke-width="1"/>
<rect x="674.9" y="437.7" width="53.5" height="11.6" fill="#fffad6"/>
<path d="M674.9 438.2H727.9V448.8H674.9" fill="none" stroke="#b3b3b3" stroke-width="1"/>
<line x1="675.2" y1="438.7" x2="675.2" y2="448.3" stroke="#dedede" stroke-width="0.6"/>
<rect x="650.1" y="449.3" width="21.8" height="11.6" fill="#c9cbfa"/>
<path d="M671.9 449.8H650.6V460.4H671.9" fill="none" stroke="#b3b3b3" stroke-width="1"/>
<line x1="671.9" y1="450.3" x2="671.9" y2="459.9" stroke="#cfcfcf" stroke-width="1"/>
<rect x="674.9" y="449.3" width="34.7" height="11.6" fill="#c9cbfa"/>
<path d="M674.9 449.8H709.1V460.4H674.9" fill="none" stroke="#b3b3b3" stroke-width="1"/>
<line x1="675.2" y1="450.3" x2="675.2" y2="459.9" stroke="#dedede" stroke-width="0.6"/>
<rect x="646.9" y="460.9" width="25" height="11.6" fill="#d4facd"/>
<path d="M671.9 461.4H647.4V472H671.9" fill="none" stroke="#b3b3b3" stroke-width="1"/>
<line x1="671.9" y1="461.9" x2="671.9" y2="471.5" stroke="#cfcfcf" stroke-width="1"/>
<rect x="674.9" y="460.9" width="59.1" height="11.6" fill="#d4facd"/>
<path d="M674.9 461.4H733.5V472H674.9" fill="none" stroke="#b3b3b3" stroke-width="1"/>
<line x1="675.2" y1="461.9" x2="675.2" y2="471.5" stroke="#dedede" stroke-width="0.6"/>
<rect x="660.8" y="472.5" width="11.1" height="11.6" fill="#f6cdcd"/>
<path d="M671.9 473H661.3V483.6H671.9" fill="none" stroke="#b3b3b3" stroke-width="1"/>
<line x1="671.9" y1="473.5" x2="671.9" y2="483.1" stroke="#cfcfcf" stroke-width="1"/>
<rect x="674.9" y="472.5" width="25" height="11.6" fill="#f6cdcd"/>
<path d="M674.9 473H699.4V483.6H674.9" fill="none" stroke="#b3b3b3" stroke-width="1"/>
<line x1="675.2" y1="473.5" x2="675.2" y2="483.1" stroke="#dedede" stroke-width="0.6"/>
<rect x="612.7" y="504.3" width="59.2" height="11.6" fill="#fffad6"/>
<path d="M671.9 504.8H613.2V515.4H671.9" fill="none" stroke="#b3b3b3" stroke-width="1"/>
<line x1="671.9" y1="505.3" x2="671.9" y2="514.9" stroke="#cfcfcf" stroke-width="1"/>
<rect x="674.9" y="504.3" width="45.8" height="11.6" fill="#fffad6"/>
<path d="M674.9 504.8H720.2V515.4H674.9" fill="none" stroke="#b3b3b3" stroke-width="1"/>
<line x1="675.2" y1="505.3" x2="675.2" y2="514.9" stroke="#dedede" stroke-width="0.6"/>
<rect x="634.1" y="515.9" width="37.8" height="11.6" fill="#c9cbfa"/>
<path d="M671.9 516.4H634.6V527H671.9" fill="none" stroke="#b3b3b3" stroke-width="1"/>
<line x1="671.9" y1="516.9" x2="671.9" y2="526.5" stroke="#cfcfcf" stroke-width="1"/>
<rect x="674.9" y="515.9" width="32.5" height="11.6" fill="#c9cbfa"/>
<path d="M674.9 516.4H706.9V527H674.9" fill="none" stroke="#b3b3b3" stroke-width="1"/>
<line x1="675.2" y1="516.9" x2="675.2" y2="526.5" stroke="#dedede" stroke-width="0.6"/>
<rect x="654" y="527.5" width="17.9" height="11.6" fill="#d4facd"/>
<path d="M671.9 528H654.5V538.6H671.9" fill="none" stroke="#b3b3b3" stroke-width="1"/>
<line x1="671.9" y1="528.5" x2="671.9" y2="538.1" stroke="#cfcfcf" stroke-width="1"/>
<rect x="674.9" y="527.5" width="38.5" height="11.6" fill="#d4facd"/>
<path d="M674.9 528H712.9V538.6H674.9" fill="none" stroke="#b3b3b3" stroke-width="1"/>
<line x1="675.2" y1="528.5" x2="675.2" y2="538.1" stroke="#dedede" stroke-width="0.6"/>
<rect x="658" y="539.1" width="13.9" height="11.6" fill="#f6cdcd"/>
<path d="M671.9 539.6H658.5V550.2H671.9" fill="none" stroke="#b3b3b3" stroke-width="1"/>
<line x1="671.9" y1="540.1" x2="671.9" y2="549.7" stroke="#cfcfcf" stroke-width="1"/>
<rect x="674.9" y="539.1" width="21" height="11.6" fill="#f6cdcd"/>
<path d="M674.9 539.6H695.4V550.2H674.9" fill="none" stroke="#b3b3b3" stroke-width="1"/>
<line x1="675.2" y1="540.1" x2="675.2" y2="549.7" stroke="#dedede" stroke-width="0.6"/>
<line x1="660.2" y1="560.45" x2="660.2" y2="370.8" stroke="#606060" stroke-width="0.9" stroke-dasharray="6.05 6.05"/>
<line x1="692.7" y1="560.45" x2="692.7" y2="370.8" stroke="#606060" stroke-width="0.9" stroke-dasharray="6.05 6.05"/>
<line x1="575.4" y1="560.1" x2="767.8" y2="560.1" stroke="#000" stroke-width="1.0"/>
<path d="M770.8 560.1 L765.5 557.2 L767.4 560.1 L765.5 563 Z" fill="#111" stroke="#111" stroke-width="0.4" stroke-linejoin="round"/>
<line x1="673.3" y1="568" x2="673.3" y2="347.3" stroke="#000" stroke-width="1.1"/>
<path d="M673.3 344.3 L676.2 349.6 L673.3 347.7 L670.4 349.6 Z" fill="#111" stroke="#111" stroke-width="0.4" stroke-linejoin="round"/>
<text transform="matrix(1 0 0 1.04 617.15 357.1)" font-size="14.0">MAPE</text>
<text transform="matrix(1 0 0 1.04 688.65 357.1)" font-size="14.0">RMSE</text>
<text transform="matrix(1 0 0 1.04 599.92 578.8)" font-size="14.0">30</text>
<text transform="matrix(1 0 0 1.04 652.41 578.8)" font-size="14.0">22</text>
<text transform="matrix(1 0 0 1.04 684.92 578.8)" font-size="14.0">30</text>
<text transform="matrix(1 0 0 1.04 710.93 578.8)" font-size="14.0">70</text>
<text class="t" transform="matrix(1 0 0 1 622.91 617.6)" font-size="18.0">Data Set (H)</text>
<line x1="865.1" y1="555.9" x2="865.1" y2="564.5" stroke="#bbb" stroke-width="1"/>
<line x1="894.4" y1="555.9" x2="894.4" y2="564.5" stroke="#bbb" stroke-width="1"/>
<line x1="933.5" y1="555.9" x2="933.5" y2="564.5" stroke="#bbb" stroke-width="1"/>
<line x1="963.1" y1="555.9" x2="963.1" y2="564.5" stroke="#bbb" stroke-width="1"/>
<rect x="859.1" y="371" width="53.6" height="11.6" fill="#fffad6"/>
<path d="M912.7 371.5H859.6V382.1H912.7" fill="none" stroke="#b3b3b3" stroke-width="1"/>
<line x1="912.7" y1="372" x2="912.7" y2="381.6" stroke="#cfcfcf" stroke-width="1"/>
<rect x="915.7" y="371" width="40.1" height="11.6" fill="#fffad6"/>
<path d="M915.7 371.5H955.3V382.1H915.7" fill="none" stroke="#b3b3b3" stroke-width="1"/>
<line x1="916" y1="372" x2="916" y2="381.6" stroke="#dedede" stroke-width="0.6"/>
<rect x="848.2" y="382.6" width="64.5" height="11.6" fill="#c9cbfa"/>
<path d="M912.7 383.1H848.7V393.7H912.7" fill="none" stroke="#b3b3b3" stroke-width="1"/>
<line x1="912.7" y1="383.6" x2="912.7" y2="393.2" stroke="#cfcfcf" stroke-width="1"/>
<rect x="915.7" y="382.6" width="65.3" height="11.6" fill="#c9cbfa"/>
<path d="M915.7 383.1H980.5V393.7H915.7" fill="none" stroke="#b3b3b3" stroke-width="1"/>
<line x1="916" y1="383.6" x2="916" y2="393.2" stroke="#dedede" stroke-width="0.6"/>
<rect x="822.5" y="394.2" width="90.2" height="11.6" fill="#d4facd"/>
<path d="M912.7 394.7H823V405.3H912.7" fill="none" stroke="#b3b3b3" stroke-width="1"/>
<line x1="912.7" y1="395.2" x2="912.7" y2="404.8" stroke="#cfcfcf" stroke-width="1"/>
<rect x="915.7" y="394.2" width="46.9" height="11.6" fill="#d4facd"/>
<path d="M915.7 394.7H962.1V405.3H915.7" fill="none" stroke="#b3b3b3" stroke-width="1"/>
<line x1="916" y1="395.2" x2="916" y2="404.8" stroke="#dedede" stroke-width="0.6"/>
<rect x="865.3" y="405.8" width="47.4" height="11.6" fill="#f6cdcd"/>
<path d="M912.7 406.3H865.8V416.9H912.7" fill="none" stroke="#b3b3b3" stroke-width="1"/>
<line x1="912.7" y1="406.8" x2="912.7" y2="416.4" stroke="#cfcfcf" stroke-width="1"/>
<rect x="915.7" y="405.8" width="34.1" height="11.6" fill="#f6cdcd"/>
<path d="M915.7 406.3H949.3V416.9H915.7" fill="none" stroke="#b3b3b3" stroke-width="1"/>
<line x1="916" y1="406.8" x2="916" y2="416.4" stroke="#dedede" stroke-width="0.6"/>
<rect x="866.2" y="437.7" width="46.5" height="11.6" fill="#fffad6"/>
<path d="M912.7 438.2H866.7V448.8H912.7" fill="none" stroke="#b3b3b3" stroke-width="1"/>
<line x1="912.7" y1="438.7" x2="912.7" y2="448.3" stroke="#cfcfcf" stroke-width="1"/>
<rect x="915.7" y="437.7" width="34.7" height="11.6" fill="#fffad6"/>
<path d="M915.7 438.2H949.9V448.8H915.7" fill="none" stroke="#b3b3b3" stroke-width="1"/>
<line x1="916" y1="438.7" x2="916" y2="448.3" stroke="#dedede" stroke-width="0.6"/>
<rect x="862.1" y="449.3" width="50.6" height="11.6" fill="#c9cbfa"/>
<path d="M912.7 449.8H862.6V460.4H912.7" fill="none" stroke="#b3b3b3" stroke-width="1"/>
<line x1="912.7" y1="450.3" x2="912.7" y2="459.9" stroke="#cfcfcf" stroke-width="1"/>
<rect x="915.7" y="449.3" width="36.2" height="11.6" fill="#c9cbfa"/>
<path d="M915.7 449.8H951.4V460.4H915.7" fill="none" stroke="#b3b3b3" stroke-width="1"/>
<line x1="916" y1="450.3" x2="916" y2="459.9" stroke="#dedede" stroke-width="0.6"/>
<rect x="841.1" y="460.9" width="71.6" height="11.6" fill="#d4facd"/>
<path d="M912.7 461.4H841.6V472H912.7" fill="none" stroke="#b3b3b3" stroke-width="1"/>
<line x1="912.7" y1="461.9" x2="912.7" y2="471.5" stroke="#cfcfcf" stroke-width="1"/>
<rect x="915.7" y="460.9" width="39.2" height="11.6" fill="#d4facd"/>
<path d="M915.7 461.4H954.4V472H915.7" fill="none" stroke="#b3b3b3" stroke-width="1"/>
<line x1="916" y1="461.9" x2="916" y2="471.5" stroke="#dedede" stroke-width="0.6"/>
<rect x="877.5" y="472.5" width="35.2" height="11.6" fill="#f6cdcd"/>
<path d="M912.7 473H878V483.6H912.7" fill="none" stroke="#b3b3b3" stroke-width="1"/>
<line x1="912.7" y1="473.5" x2="912.7" y2="483.1" stroke="#cfcfcf" stroke-width="1"/>
<rect x="915.7" y="472.5" width="28.1" height="11.6" fill="#f6cdcd"/>
<path d="M915.7 473H943.3V483.6H915.7" fill="none" stroke="#b3b3b3" stroke-width="1"/>
<line x1="916" y1="473.5" x2="916" y2="483.1" stroke="#dedede" stroke-width="0.6"/>
<rect x="869.4" y="504.3" width="43.3" height="11.6" fill="#fffad6"/>
<path d="M912.7 504.8H869.9V515.4H912.7" fill="none" stroke="#b3b3b3" stroke-width="1"/>
<line x1="912.7" y1="505.3" x2="912.7" y2="514.9" stroke="#cfcfcf" stroke-width="1"/>
<rect x="915.7" y="504.3" width="32.1" height="11.6" fill="#fffad6"/>
<path d="M915.7 504.8H947.3V515.4H915.7" fill="none" stroke="#b3b3b3" stroke-width="1"/>
<line x1="916" y1="505.3" x2="916" y2="514.9" stroke="#dedede" stroke-width="0.6"/>
<rect x="862.9" y="515.9" width="49.8" height="11.6" fill="#c9cbfa"/>
<path d="M912.7 516.4H863.4V527H912.7" fill="none" stroke="#b3b3b3" stroke-width="1"/>
<line x1="912.7" y1="516.9" x2="912.7" y2="526.5" stroke="#cfcfcf" stroke-width="1"/>
<rect x="915.7" y="515.9" width="36" height="11.6" fill="#c9cbfa"/>
<path d="M915.7 516.4H951.2V527H915.7" fill="none" stroke="#b3b3b3" stroke-width="1"/>
<line x1="916" y1="516.9" x2="916" y2="526.5" stroke="#dedede" stroke-width="0.6"/>
<rect x="853.1" y="527.5" width="59.6" height="11.6" fill="#d4facd"/>
<path d="M912.7 528H853.6V538.6H912.7" fill="none" stroke="#b3b3b3" stroke-width="1"/>
<line x1="912.7" y1="528.5" x2="912.7" y2="538.1" stroke="#cfcfcf" stroke-width="1"/>
<rect x="915.7" y="527.5" width="34.1" height="11.6" fill="#d4facd"/>
<path d="M915.7 528H949.3V538.6H915.7" fill="none" stroke="#b3b3b3" stroke-width="1"/>
<line x1="916" y1="528.5" x2="916" y2="538.1" stroke="#dedede" stroke-width="0.6"/>
<rect x="882.8" y="539.1" width="29.9" height="11.6" fill="#f6cdcd"/>
<path d="M912.7 539.6H883.3V550.2H912.7" fill="none" stroke="#b3b3b3" stroke-width="1"/>
<line x1="912.7" y1="540.1" x2="912.7" y2="549.7" stroke="#cfcfcf" stroke-width="1"/>
<rect x="915.7" y="539.1" width="25.5" height="11.6" fill="#f6cdcd"/>
<path d="M915.7 539.6H940.7V550.2H915.7" fill="none" stroke="#b3b3b3" stroke-width="1"/>
<line x1="916" y1="540.1" x2="916" y2="549.7" stroke="#dedede" stroke-width="0.6"/>
<line x1="894.4" y1="560.45" x2="894.4" y2="370.8" stroke="#606060" stroke-width="0.9" stroke-dasharray="6.05 6.05"/>
<line x1="933.5" y1="560.45" x2="933.5" y2="370.8" stroke="#606060" stroke-width="0.9" stroke-dasharray="6.05 6.05"/>
<line x1="816.3" y1="560.1" x2="1008.7" y2="560.1" stroke="#000" stroke-width="1.0"/>
<path d="M1011.7 560.1 L1006.4 557.2 L1008.3 560.1 L1006.4 563 Z" fill="#111" stroke="#111" stroke-width="0.4" stroke-linejoin="round"/>
<line x1="914.1" y1="568" x2="914.1" y2="347.3" stroke="#000" stroke-width="1.1"/>
<path d="M914.1 344.3 L917 349.6 L914.1 347.7 L911.2 349.6 Z" fill="#111" stroke="#111" stroke-width="0.4" stroke-linejoin="round"/>
<text transform="matrix(1 0 0 1.04 854.85 357.1)" font-size="14.0">MAPE</text>
<text transform="matrix(1 0 0 1.04 932.75 357.1)" font-size="14.0">RMSE</text>
<text transform="matrix(1 0 0 1.04 851.22 578.8)" font-size="14.0">10.0</text>
<text transform="matrix(1 0 0 1.04 884.58 578.8)" font-size="14.0">7.0</text>
<text transform="matrix(1 0 0 1.04 923.88 578.8)" font-size="14.0">4.0</text>
<text transform="matrix(1 0 0 1.04 953.28 578.8)" font-size="14.0">7.0</text>
<text class="t" transform="matrix(1 0 0 1 864.3 617.6)" font-size="18.0">Data Set (S)</text>
</svg>
</body></html>
